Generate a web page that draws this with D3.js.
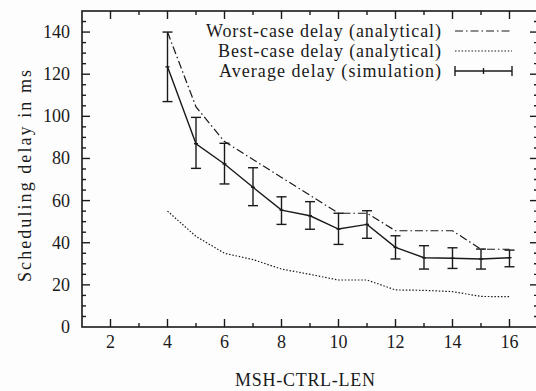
<!DOCTYPE html>
<html>
<head>
<meta charset="utf-8">
<script src="https://cdn.jsdelivr.net/npm/d3@7"></script>
<style>
  body { margin: 0; background: #fdfdfd; }
</style>
</head>
<body>
<div id="js_chart"></div>
<script>
// ******************************************************
// Data
// ******************************************************
const msgLen = [4, 5, 6, 7, 8, 9, 10, 11, 12, 13, 14, 15, 16];
const worstCase = [140, 104.5, 88, 79.5, 71, 62.5, 54, 54, 45.7, 45.7, 45.7, 36.9, 36.9];
const bestCase = [55, 43, 35, 32, 27.5, 25, 22.3, 22.3, 17.6, 17.4, 16.8, 14.5, 14.4];
const avgDelay = [123.5, 87, 77.4, 66.3, 55.5, 52.8, 46.5, 48.7, 37.8, 32.9, 32.6, 32.3, 32.9];
const avgLow = [107, 75.3, 67.9, 57.6, 48.7, 46.4, 39.2, 42.1, 32.3, 27.5, 27.8, 27.5, 28.6];
const avgHigh = [140, 99.5, 87.2, 75.6, 61.8, 59.5, 54, 55.2, 43.3, 38.6, 37.6, 37, 36.5];
const xTicks = [2, 4, 6, 8, 10, 12, 14, 16];
const yTicks = [0, 20, 40, 60, 80, 100, 120, 140];
const legendLabels = ["Worst-case delay (analytical)", "Best-case delay (analytical)", "Average delay (simulation)"];

// ******************************************************
// Settings
// ******************************************************
const width = 536, height = 391;
const plot = {left: 82, right: 538, top: 11, bottom: 327};
const ink = "#1a1a1a";
const serif = "'Liberation Serif', 'Times New Roman', Times, 'DejaVu Serif', serif";

let x = d3.scaleLinear().domain([1, 17]).range([plot.left, plot.right]);
let y = d3.scaleLinear().domain([0, 150]).range([plot.bottom, plot.top]);

let svg = d3.select("#js_chart")
    .append("svg")
    .attr("width", width)
    .attr("height", height)
    .attr("font-family", serif);

// frame
svg.append("rect")
    .attr("x", plot.left).attr("y", plot.top)
    .attr("width", plot.right - plot.left).attr("height", plot.bottom - plot.top)
    .attr("fill", "none").attr("stroke", ink).attr("stroke-width", 1.6);

// ticks (inward, on all sides)
let ticks = svg.append("g").attr("stroke", ink).attr("stroke-width", 1.4);
d3.range(2, 17).forEach(function (v) {
    let len = v % 2 === 0 ? 8 : 4;
    ticks.append("line").attr("x1", x(v)).attr("x2", x(v)).attr("y1", plot.bottom).attr("y2", plot.bottom - len);
    ticks.append("line").attr("x1", x(v)).attr("x2", x(v)).attr("y1", plot.top).attr("y2", plot.top + len);
});
d3.range(5, 150, 5).forEach(function (v) {
    let len = v % 20 === 0 ? 8 : 4;
    ticks.append("line").attr("y1", y(v)).attr("y2", y(v)).attr("x1", plot.left).attr("x2", plot.left + len);
    ticks.append("line").attr("y1", y(v)).attr("y2", y(v)).attr("x1", plot.right).attr("x2", plot.right - len);
});

// tick labels
svg.append("g").selectAll("text")
    .data(xTicks).enter().append("text")
    .attr("x", function (d) { return x(d); })
    .attr("y", 348)
    .attr("text-anchor", "middle")
    .attr("font-size", 18)
    .attr("fill", ink)
    .text(function (d) { return d; });

svg.append("g").selectAll("text")
    .data(yTicks).enter().append("text")
    .attr("x", 70)
    .attr("y", function (d) { return y(d) + 6; })
    .attr("text-anchor", "end")
    .attr("font-size", 18)
    .attr("fill", ink)
    .text(function (d) { return d; });

// axis titles
svg.append("text")
    .attr("x", 305).attr("y", 386)
    .attr("text-anchor", "middle")
    .attr("font-size", 18)
    .attr("textLength", 140)
    .attr("lengthAdjust", "spacing")
    .attr("fill", ink)
    .text("MSH-CTRL-LEN");

svg.append("text")
    .attr("transform", "translate(31,176) rotate(-90)")
    .attr("text-anchor", "middle")
    .attr("font-size", 18)
    .attr("textLength", 212)
    .attr("lengthAdjust", "spacing")
    .attr("fill", ink)
    .text("Scheduling delay in ms");

// ******************************************************
// Series
// ******************************************************
const line = d3.line()
    .x(function (d) { return x(d[0]); })
    .y(function (d) { return y(d[1]); });

svg.append("path")
    .attr("d", line(d3.zip(msgLen, worstCase)))
    .attr("fill", "none").attr("stroke", ink).attr("stroke-width", 1.2)
    .attr("stroke-dasharray", "8,3,1.5,3");

svg.append("path")
    .attr("d", line(d3.zip(msgLen, bestCase)))
    .attr("fill", "none").attr("stroke", ink).attr("stroke-width", 1.2)
    .attr("stroke-dasharray", "1.5,1.8");

svg.append("path")
    .attr("d", line(d3.zip(msgLen, avgDelay)))
    .attr("fill", "none").attr("stroke", ink).attr("stroke-width", 1.4);

let err = svg.append("g").attr("stroke", ink).attr("stroke-width", 1.4);
msgLen.forEach(function (m, i) {
    let cx = x(m);
    err.append("line").attr("x1", cx).attr("x2", cx).attr("y1", y(avgLow[i])).attr("y2", y(avgHigh[i]));
    err.append("line").attr("x1", cx - 5).attr("x2", cx + 5).attr("y1", y(avgLow[i])).attr("y2", y(avgLow[i]));
    err.append("line").attr("x1", cx - 5).attr("x2", cx + 5).attr("y1", y(avgHigh[i])).attr("y2", y(avgHigh[i]));
    err.append("line").attr("x1", cx - 2).attr("x2", cx + 2).attr("y1", y(avgDelay[i])).attr("y2", y(avgDelay[i]));
});

// ******************************************************
// Legend
// ******************************************************
let legend = svg.append("g");
const rowY = [31, 51, 71];
const textLen = [235, 223, 222];
const styles = ["8,3,1.5,3", "1.5,1.8", null];
legendLabels.forEach(function (lbl, i) {
    legend.append("text")
        .attr("x", 441).attr("y", rowY[i] + 6)
        .attr("text-anchor", "end")
        .attr("font-size", 18)
        .attr("textLength", textLen[i])
        .attr("lengthAdjust", "spacing")
        .attr("fill", ink)
        .text(lbl);
    let l = legend.append("line")
        .attr("x1", 455).attr("x2", 512).attr("y1", rowY[i]).attr("y2", rowY[i])
        .attr("stroke", ink).attr("stroke-width", i === 2 ? 1.4 : 1.2);
    if (styles[i]) l.attr("stroke-dasharray", styles[i]);
});
[455, 483.5, 512].forEach(function (px, j) {
    let h = j === 1 ? 3 : 5;
    legend.append("line")
        .attr("x1", px).attr("x2", px).attr("y1", rowY[2] - h).attr("y2", rowY[2] + h)
        .attr("stroke", ink).attr("stroke-width", 1.4);
});
</script>
</body>
</html>
